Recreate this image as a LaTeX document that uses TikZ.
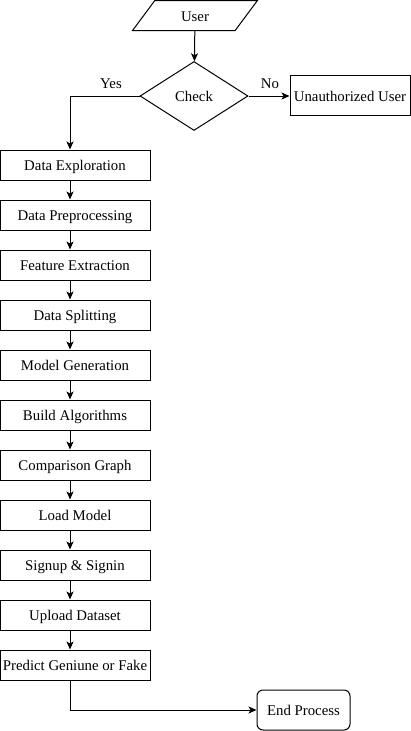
\documentclass[tikz,border=0pt]{standalone}
\usepackage{fontspec}
\setmainfont{Liberation Serif}
\usetikzlibrary{shapes.geometric,arrows.meta}

\begin{document}
\begin{tikzpicture}[x=1pt,y=-1pt,
    line width=1pt,
    font=\fontsize{14.8}{17}\selectfont,
    flow/.style={-{Stealth[length=8pt,width=7pt,inset=2pt]}},
    stepbox/.style={draw,rectangle,minimum width=150pt,minimum height=30pt,inner sep=0pt,
      text height=11.5pt,text depth=0pt},
    inputbox/.style={draw,trapezium,trapezium left angle=56,trapezium right angle=124,
      trapezium stretches=true,minimum width=125pt,minimum height=30pt,inner sep=0pt,
      text height=11.5pt,text depth=0pt},
    decision/.style={draw,diamond,minimum width=108pt,minimum height=69pt,inner sep=0pt,
      text height=11.5pt,text depth=0pt},
    endbox/.style={draw,rectangle,rounded corners=6pt,minimum width=93pt,minimum height=40pt,inner sep=0pt,
      text height=11.5pt,text depth=0pt},
    edgelabel/.style={inner sep=0pt}]
\useasboundingbox (0,0) rectangle (411,731);
%
% ============ Eingang und Abfrage ============
\node[inputbox] (user) at (195,15.5) {User};
\node[decision] (check) at (194,96) {Check};
\node[stepbox,minimum width=120pt,minimum height=40pt] (unauth) at (350,95.5) {Unauthorized User};
\node[edgelabel] (yes) at (111,84) {Yes};
\node[edgelabel] (no) at (270,84) {No};
% Hilfslinie fuer die senkrechte Kette
\coordinate (spine) at (70,0);
%
% ============ Verarbeitungsschritte ============
\node[stepbox] (explore)  at (75,165) {Data Exploration};
\node[stepbox] (prep)     at (75,215) {Data Preprocessing};
\node[stepbox] (feature)  at (75,265) {Feature Extraction};
\node[stepbox] (split)    at (75,315) {Data Splitting};
\node[stepbox] (model)    at (75,365) {Model Generation};
\node[stepbox] (algo)     at (75,415) {Build Algorithms};
\node[stepbox] (graph)    at (75,465) {Comparison Graph};
\node[stepbox] (load)     at (75,515) {Load Model};
\node[stepbox] (sign)     at (75,565) {Signup \& Signin};
\node[stepbox] (upload)   at (75,615) {Upload Dataset};
\node[stepbox] (predict)  at (75,665) {Predict Geniune or Fake};
\node[endbox]  (finish)   at (303.5,710) {End Process};
%
% ============ Pfeile ============
\draw[flow] (user) -- (check);
\draw[flow] (check.east) -- (check.east -| unauth.west);
\draw[flow] (check.west) -| (explore.north -| spine);
\foreach \a/\b in {explore/prep,prep/feature,feature/split,split/model,model/algo,
    algo/graph,graph/load,load/sign,sign/upload,upload/predict}
  \draw[flow] (\a.south -| spine) -- (\b.north -| spine);
\draw[flow] (predict.south -| spine) |- (finish.west);
%
\end{tikzpicture}
\end{document}
